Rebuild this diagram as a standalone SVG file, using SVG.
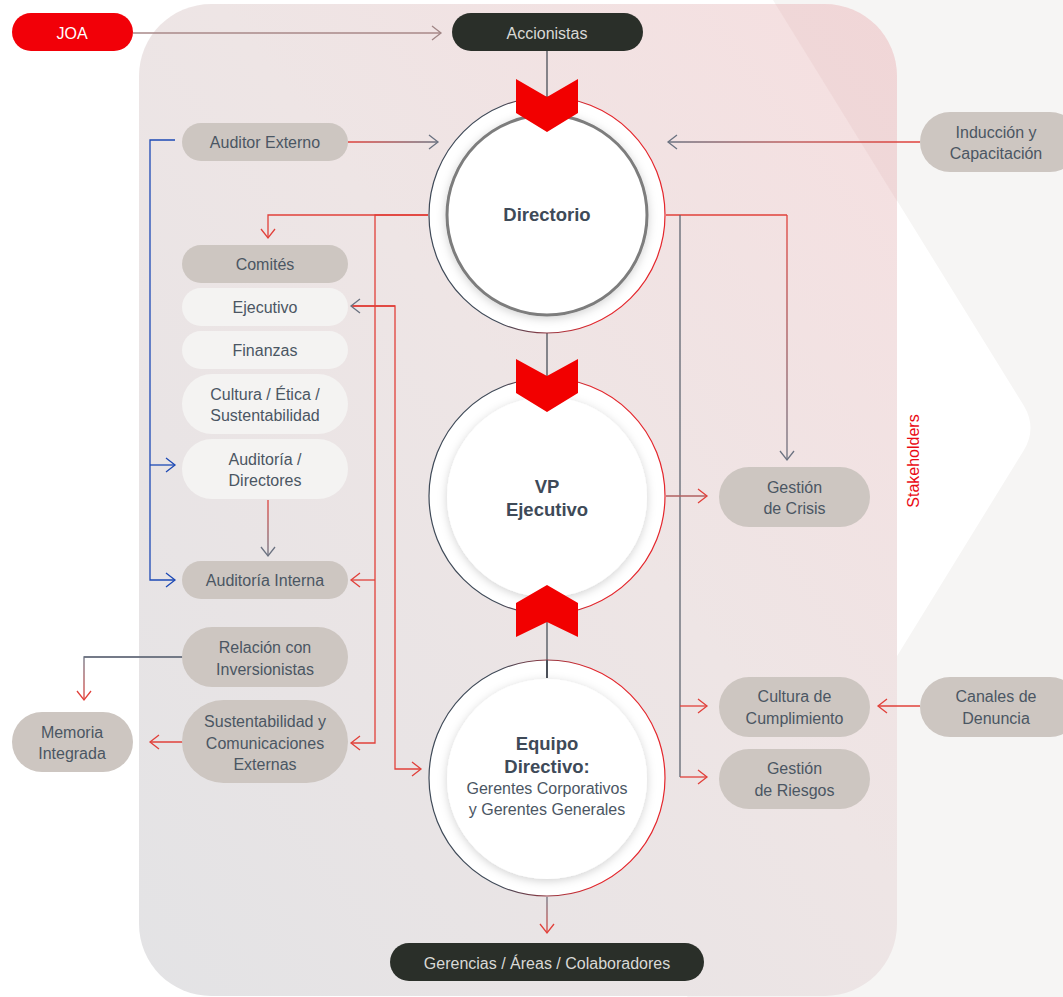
<svg xmlns="http://www.w3.org/2000/svg" width="1063" height="997" viewBox="0 0 1063 997">
<style>
text{font-family:"Liberation Sans",Arial,sans-serif;font-size:16px;fill:#4b5663;text-anchor:middle}
.bold{font-weight:bold;font-size:18.5px;fill:#3e4a58}
.lt{fill:#d9d9d6}
.wt{fill:#ffffff}
.pill{fill:#cdc6c1}
.pale{fill:#f4f3f2}
.dark{fill:#2a2f29}
.c{fill:none;stroke-width:1.3}
.r{stroke:#e1403a}
.g{stroke:#5f6570}
.b{stroke:#1d49b5}
.chev{fill:#f20000}
</style>
<defs>
<linearGradient id="bg" x1="0" y1="1" x2="1" y2="0">
<stop offset="0" stop-color="#e3e3e5"/>
<stop offset="0.55" stop-color="#eee5e5"/>
<stop offset="1" stop-color="#f6dfe0"/>
</linearGradient>
<linearGradient id="ring" x1="0" y1="0" x2="1" y2="0">
<stop offset="0.3" stop-color="#3f4a58"/>
<stop offset="0.7" stop-color="#e4262c"/>
</linearGradient>
<linearGradient id="gAud" gradientUnits="userSpaceOnUse" x1="348" y1="0" x2="438" y2="0">
<stop offset="0" stop-color="#e1403a"/><stop offset="1" stop-color="#6b7280"/>
</linearGradient>
<linearGradient id="gInd" gradientUnits="userSpaceOnUse" x1="920" y1="0" x2="668" y2="0">
<stop offset="0" stop-color="#e1403a"/><stop offset="0.5" stop-color="#c06060"/><stop offset="1" stop-color="#6b7280"/>
</linearGradient>
<linearGradient id="gCri" gradientUnits="userSpaceOnUse" x1="0" y1="215" x2="0" y2="460">
<stop offset="0" stop-color="#e1403a"/><stop offset="1" stop-color="#6b7280"/>
</linearGradient>
<linearGradient id="gRel" gradientUnits="userSpaceOnUse" x1="0" y1="657" x2="0" y2="700">
<stop offset="0" stop-color="#6b7280"/><stop offset="1" stop-color="#e1403a"/>
</linearGradient>
<linearGradient id="gAD" gradientUnits="userSpaceOnUse" x1="0" y1="500" x2="0" y2="556">
<stop offset="0" stop-color="#e1403a"/><stop offset="1" stop-color="#6b7280"/>
</linearGradient>
<linearGradient id="gBot" gradientUnits="userSpaceOnUse" x1="0" y1="897" x2="0" y2="933">
<stop offset="0" stop-color="#6b7280"/><stop offset="1" stop-color="#e1403a"/>
</linearGradient>
<marker id="aR" viewBox="-1 -1 12 16" refX="9" refY="7" markerWidth="12" markerHeight="16" markerUnits="userSpaceOnUse" orient="auto"><path d="M0,0 L9,7 L0,14" fill="none" stroke="#e1403a" stroke-width="1.3"/></marker>
<marker id="aG" viewBox="-1 -1 12 16" refX="9" refY="7" markerWidth="12" markerHeight="16" markerUnits="userSpaceOnUse" orient="auto"><path d="M0,0 L9,7 L0,14" fill="none" stroke="#6b7280" stroke-width="1.3"/></marker>
<marker id="aM" viewBox="-1 -1 12 16" refX="9" refY="7" markerWidth="12" markerHeight="16" markerUnits="userSpaceOnUse" orient="auto"><path d="M0,0 L9,7 L0,14" fill="none" stroke="#a08585" stroke-width="1.3"/></marker>
<marker id="aB" viewBox="-1 -1 12 16" refX="9" refY="7" markerWidth="12" markerHeight="16" markerUnits="userSpaceOnUse" orient="auto"><path d="M0,0 L9,7 L0,14" fill="none" stroke="#1d49b5" stroke-width="1.3"/></marker>
<filter id="sh" x="-20%" y="-20%" width="140%" height="140%">
<feDropShadow dx="0" dy="2" stdDeviation="5" flood-color="#000" flood-opacity="0.18"/>
</filter>
<clipPath id="rc"><rect x="139" y="4" width="758" height="992" rx="72"/></clipPath>
</defs>

<g id="background">
<rect x="0" y="0" width="1063" height="997" fill="#ffffff"/>
<path d="M773,0 L1063,0 L1063,997 L687,997 L1024,450 Q1037,428 1024,406 Z" fill="#f6f5f4"/>
<rect x="139" y="4" width="758" height="992" rx="72" fill="url(#bg)"/>
<path d="M773,0 L897,0 L897,201 Z" fill="#c07070" opacity="0.08" clip-path="url(#rc)"/>
</g>

<g id="connectors">
<line class="c" x1="133" y1="33" x2="441" y2="33" stroke="#a88888" marker-end="url(#aM)"/>
<line class="c" x1="547" y1="51" x2="547" y2="97" stroke="#4a4f58" stroke-width="2"/>
<line class="c" x1="348" y1="142" x2="438" y2="142" stroke="url(#gAud)" marker-end="url(#aG)"/>
<line class="c" x1="920" y1="142" x2="668" y2="142" stroke="url(#gInd)" marker-end="url(#aG)"/>
<polyline class="c r" points="428,215 268,215 268,238" marker-end="url(#aR)"/>
<polyline class="c r" points="428,215 375,215 375,743 351,743" marker-end="url(#aR)"/>
<line class="c r" x1="375" y1="580" x2="351" y2="580" marker-end="url(#aR)"/>
<polyline class="c r" points="351,306 395,306 395,769 421,769" marker-end="url(#aR)"/>
<path class="c r" d="M395,306 L351,306" marker-end="url(#aG)"/>
<polyline class="c b" points="175,140 150,140 150,580 175,580" marker-end="url(#aB)"/>
<line class="c b" x1="150" y1="465" x2="175" y2="465" marker-end="url(#aB)"/>
<line class="c" x1="268" y1="500" x2="268" y2="556" stroke="url(#gAD)" marker-end="url(#aG)"/>
<line class="c" x1="547" y1="315" x2="547" y2="376" stroke="#4a4f58" stroke-width="2"/>
<line class="c" x1="547" y1="678" x2="547" y2="622" stroke="#4a4f58" stroke-width="2"/>
<line class="c" x1="547" y1="897" x2="547" y2="933" stroke="url(#gBot)" marker-end="url(#aR)"/>
<polyline class="c r" points="666,215 787,215"/>
<line class="c" x1="787" y1="215" x2="787" y2="460" stroke="url(#gCri)" marker-end="url(#aG)"/>
<line class="c g" x1="680" y1="215" x2="680" y2="777"/>
<line class="c r" x1="680" y1="706" x2="707" y2="706" marker-end="url(#aR)"/>
<line class="c r" x1="680" y1="777" x2="707" y2="777" marker-end="url(#aR)"/>
<line class="c" x1="666" y1="496" x2="707" y2="496" stroke="#b06060" marker-end="url(#aR)"/>
<line class="c r" x1="920" y1="706" x2="878" y2="706" marker-end="url(#aR)"/>
<polyline class="c" points="183,657 84,657 84,700" stroke="url(#gRel)" marker-end="url(#aR)"/>
<line class="c" x1="84" y1="657" x2="183" y2="657" stroke="#6b7280"/>
<line class="c r" x1="183" y1="742" x2="150" y2="742" marker-end="url(#aR)"/>
</g>

<g id="directorio">
<circle cx="547" cy="215" r="118" fill="#ffffff" stroke="url(#ring)" stroke-width="1.2"/>
<circle cx="547" cy="215" r="100" fill="#ffffff" stroke="#7d7d7d" stroke-width="3" filter="url(#sh)"/>
<polygon class="chev" points="516,79 547,97 578,79 578,113 547,132 516,113"/>
<text class="bold" x="547" y="221">Directorio</text>
</g>

<g id="vp-ejecutivo">
<circle cx="547" cy="496" r="118" fill="#ffffff" stroke="url(#ring)" stroke-width="1.2"/>
<circle cx="547" cy="497" r="100" fill="#ffffff" filter="url(#sh)"/>
<polygon class="chev" points="516,359 547,376 578,359 578,393 547,412 516,393"/>
<polygon class="chev" points="516,637 547,622 578,637 578,603 547,585 516,603"/>
<text class="bold" x="547" y="493">VP</text>
<text class="bold" x="547" y="516">Ejecutivo</text>
</g>

<g id="equipo-directivo">
<circle cx="547" cy="778" r="118" fill="#ffffff" stroke="url(#ring)" stroke-width="1.2"/>
<circle cx="547" cy="779" r="100" fill="#ffffff" filter="url(#sh)"/>
<line x1="547" y1="660" x2="547" y2="678" stroke="#4a4f58" stroke-width="2"/>
<text class="bold" x="547" y="750">Equipo</text>
<text class="bold" x="547" y="773">Directivo:</text>
<text x="547" y="794">Gerentes Corporativos</text>
<text x="547" y="815">y Gerentes Generales</text>
</g>

<g id="joa">
<rect x="12" y="13" width="121" height="38" rx="19" fill="#f20008"/>
<text class="wt" x="72" y="38.5">JOA</text>
</g>
<g id="accionistas">
<rect class="dark" x="452" y="13" width="191" height="38" rx="19"/>
<text class="lt" x="547" y="38.5">Accionistas</text>
</g>
<g id="auditor-externo">
<rect class="pill" x="182" y="123" width="166" height="38" rx="19"/>
<text x="265" y="147.5">Auditor Externo</text>
</g>
<g id="comites">
<rect class="pill" x="182" y="245" width="166" height="38" rx="19"/>
<text x="265" y="269.5">Comités</text>
</g>
<g id="ejecutivo">
<rect class="pale" x="182" y="288" width="166" height="38" rx="19"/>
<text x="265" y="312.5">Ejecutivo</text>
</g>
<g id="finanzas">
<rect class="pale" x="182" y="331" width="166" height="38" rx="19"/>
<text x="265" y="355.5">Finanzas</text>
</g>
<g id="cultura-etica">
<rect class="pale" x="182" y="374" width="166" height="60" rx="30"/>
<text x="265" y="399.5">Cultura / Ética /</text>
<text x="265" y="420.5">Sustentabilidad</text>
</g>
<g id="auditoria-directores">
<rect class="pale" x="182" y="439" width="166" height="60" rx="30"/>
<text x="265" y="464.5">Auditoría /</text>
<text x="265" y="485.5">Directores</text>
</g>
<g id="auditoria-interna">
<rect class="pill" x="182" y="561" width="166" height="38" rx="19"/>
<text x="265" y="585.5">Auditoría Interna</text>
</g>
<g id="relacion-inversionistas">
<rect class="pill" x="182" y="627" width="166" height="60" rx="30"/>
<text x="265" y="652.5">Relación con</text>
<text x="265" y="674.5">Inversionistas</text>
</g>
<g id="sustentabilidad-comunicaciones">
<rect class="pill" x="182" y="700" width="166" height="83" rx="41.5"/>
<text x="265" y="727">Sustentabilidad y</text>
<text x="265" y="749">Comunicaciones</text>
<text x="265" y="770">Externas</text>
</g>
<g id="memoria-integrada">
<rect class="pill" x="12" y="712" width="121" height="60" rx="30"/>
<text x="72" y="737.5">Memoria</text>
<text x="72" y="758.5">Integrada</text>
</g>
<g id="induccion">
<rect class="pill" x="920" y="112" width="160" height="60" rx="30"/>
<text x="996" y="137.5">Inducción y</text>
<text x="996" y="158.5">Capacitación</text>
</g>
<g id="gestion-crisis">
<rect class="pill" x="719" y="467" width="151" height="60" rx="30"/>
<text x="794.5" y="492.5">Gestión</text>
<text x="794.5" y="513.5">de Crisis</text>
</g>
<g id="cultura-cumplimiento">
<rect class="pill" x="719" y="677" width="151" height="60" rx="30"/>
<text x="794.5" y="701.5">Cultura de</text>
<text x="794.5" y="723.5">Cumplimiento</text>
</g>
<g id="canales-denuncia">
<rect class="pill" x="920" y="677" width="160" height="60" rx="30"/>
<text x="996" y="701.5">Canales de</text>
<text x="996" y="723.5">Denuncia</text>
</g>
<g id="gestion-riesgos">
<rect class="pill" x="719" y="749" width="151" height="60" rx="30"/>
<text x="794.5" y="773.5">Gestión</text>
<text x="794.5" y="795.5">de Riesgos</text>
</g>
<g id="gerencias">
<rect class="dark" x="390" y="943" width="314" height="38" rx="19"/>
<text class="lt" x="547" y="968.5">Gerencias / Áreas / Colaboradores</text>
</g>
<g id="stakeholders">
<text transform="translate(919,461) rotate(-90)" x="0" y="0" style="fill:#ea0a14">Stakeholders</text>
</g>
</svg>
